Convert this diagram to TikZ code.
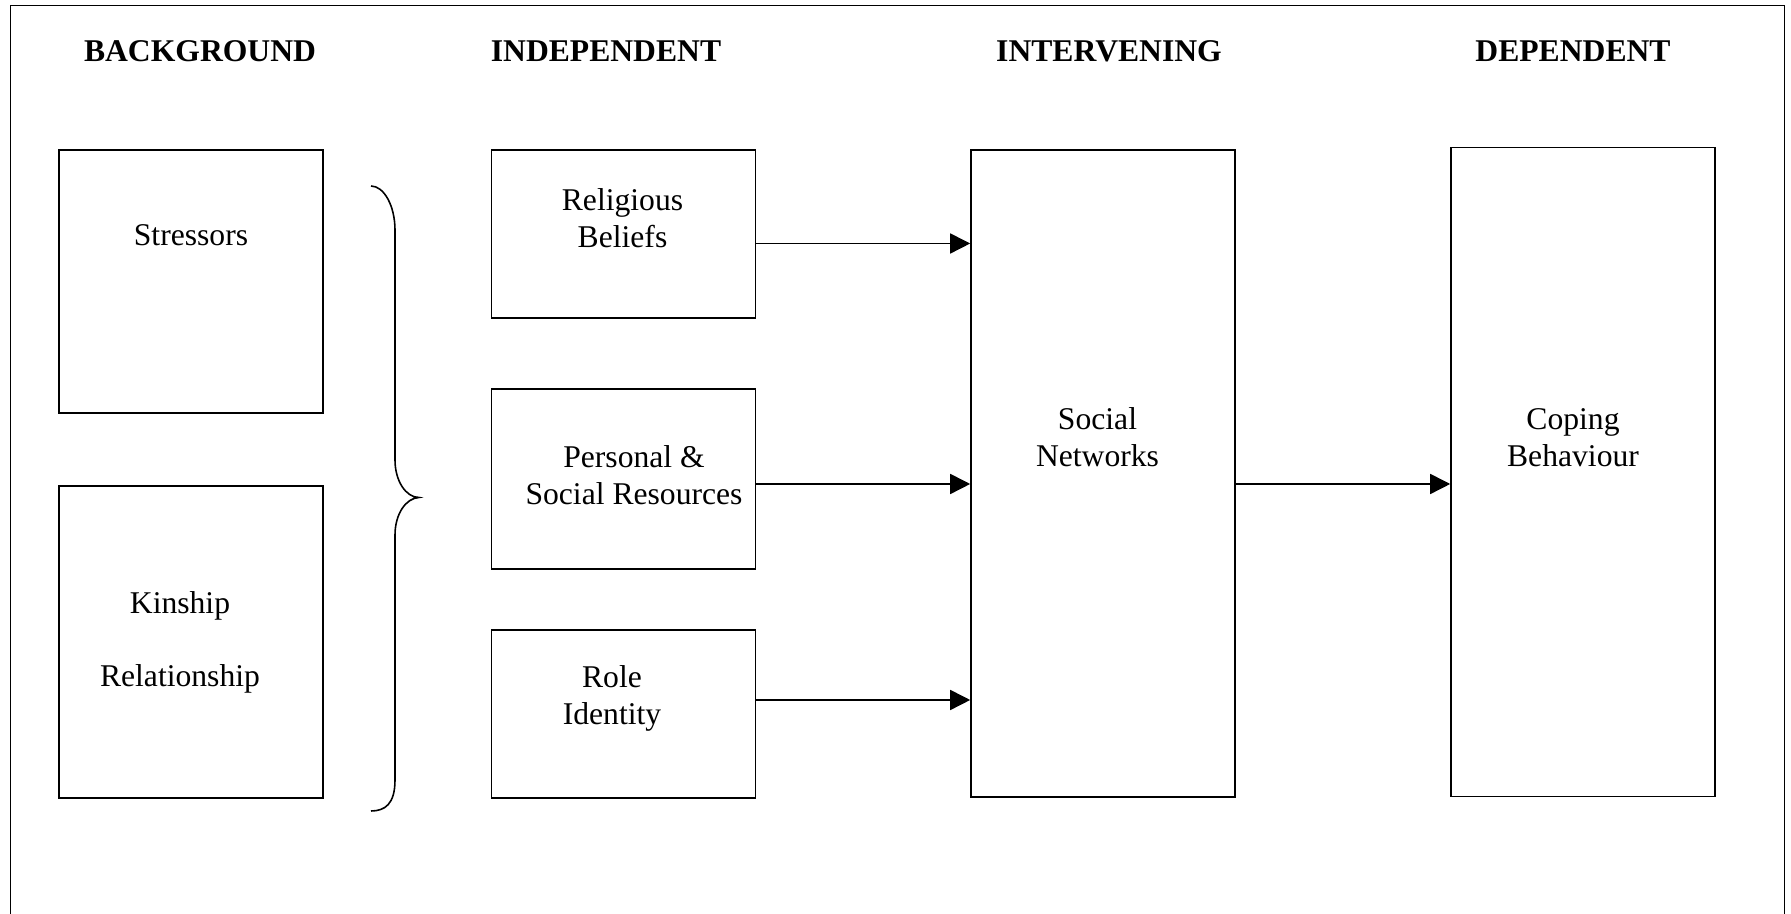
\documentclass[tikz,border=0pt]{standalone}
\usepackage{fontspec}
\setmainfont{Liberation Serif}
\usetikzlibrary{arrows.meta}

\tikzset{
  box/.style={draw, line width=0.9pt, minimum width=5.28cm, inner sep=0pt},
  lbl/.style={align=center, font=\fontsize{18}{21}\selectfont},
  head/.style={anchor=base, font=\fontsize{18}{21}\selectfont\bfseries},
  arr/.style={line width=0.9pt, -{Triangle[length=0.4cm,width=0.4cm]}}
}

\begin{document}
\begin{tikzpicture}

\useasboundingbox (0,0) rectangle (35.82,18.28);

% Frame
\draw[line width=0.9pt] (0.21,0) -- (0.21,18.17) -- (35.69,18.17) -- (35.69,0);

% Headings
\node[head] (hbg) at (4.0,17.05) {BACKGROUND};
\node[head] (hind) at (12.12,17.05) {INDEPENDENT};
\node[head] (hint) at (22.18,17.05) {INTERVENING};
\node[head] (hdep) at (31.46,17.05) {DEPENDENT};

% Background
\node[box, minimum height=5.26cm] (str) at (3.82,12.65) {};
\node[box, minimum height=6.24cm] (kin) at (3.82,5.44) {};
\node[lbl] (strT) at (3.82,13.58) {Stressors};
\node[lbl] (kinT) at (3.6,5.43) {Kinship\\[20.5pt]Relationship};

% Brace
\draw[line width=0.9pt] (7.42,14.56) .. controls (7.68,14.56) and (7.9,14.16) .. (7.9,13.68)
  -- (7.9,9.08) .. controls (7.9,8.66) and (8.12,8.33) .. (8.38,8.33)
  .. controls (8.12,8.32) and (7.9,8.0) .. (7.9,7.58)
  -- (7.9,2.68) .. controls (7.9,2.2) and (7.7,2.06) .. (7.42,2.06);

% Independent
\node[box, minimum height=3.35cm] (rel) at (12.47,13.6) {};
\node[box, minimum height=3.59cm] (per) at (12.47,8.7) {};
\node[box, minimum height=3.35cm] (rol) at (12.47,4.0) {};
\node[lbl] (relT) at (12.45,13.92) {Religious\\Beliefs};
\node[lbl] (perT) at (12.68,8.78) {Personal \&\\Social Resources};
\node[lbl] (rolT) at (12.24,4.32) {Role\\Identity};

% Intervening
\node[box, minimum height=12.93cm] (net) at (22.06,8.81) {};
\node[lbl] (netT) at (21.95,9.53) {Social\\Networks};

% Dependent
\node[box, minimum height=12.98cm] (cop) at (31.66,8.84) {};
\node[lbl] (copT) at (31.46,9.53) {Coping\\Behaviour};

% Arrows
\foreach \src/\dy in {rel/-0.19, per/-0.1, rol/0.28}
{
\draw[arr] ([yshift=\dy cm]\src.east) -- ([yshift=\dy cm]\src.east -| net.west);
}
\draw[arr] ([yshift=-0.21cm]net.east) -- ([yshift=-0.21cm]net.east -| cop.west);

\end{tikzpicture}
\end{document}
